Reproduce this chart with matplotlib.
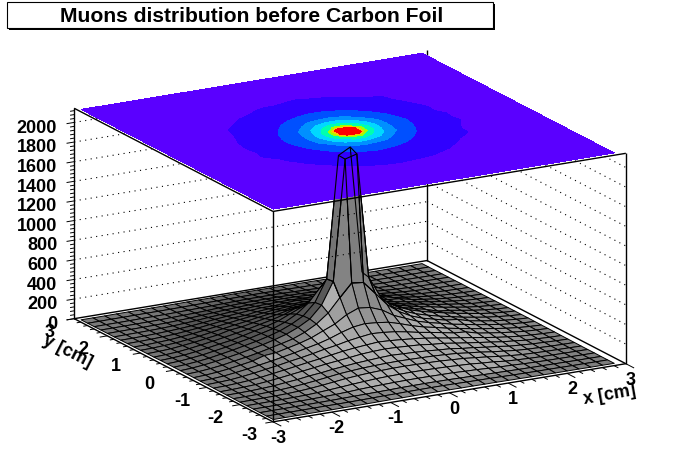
import numpy as np
import matplotlib
matplotlib.use('Agg')
import matplotlib.pyplot as plt
from matplotlib.patches import Rectangle
from mpl_toolkits.mplot3d import proj3d

plt.rcParams['font.family'] = ['Liberation Sans', 'DejaVu Sans']

W, H = 696, 472

title = "Muons distribution before Carbon Foil"
x_label = "x [cm]"
y_label = "y [cm]"

# bin centres, cm
x_bins = [-2.94, -2.74, -2.54, -2.34, -2.14, -1.94, -1.74, -1.54, -1.34, -1.14, -0.94, -0.74, -0.54, -0.34, -0.14,
          0.06, 0.26, 0.46, 0.66, 0.86, 1.06, 1.26, 1.46, 1.66, 1.86, 2.06, 2.26, 2.46, 2.66, 2.86]
y_bins = [-2.9, -2.7, -2.5, -2.3, -2.1, -1.9, -1.7, -1.5, -1.3, -1.1, -0.9, -0.7, -0.5, -0.3, -0.1,
          0.1, 0.3, 0.5, 0.7, 0.9, 1.1, 1.3, 1.5, 1.7, 1.9, 2.1, 2.3, 2.5, 2.7, 2.9]

# counts per bin, rows go from y=-2.9 to y=2.9
counts = [
    [0, 0, 0, 1, 1, 1, 2, 2, 3, 4, 5, 5, 6, 7, 7, 7, 6, 6, 5, 5, 4, 3, 2, 2, 1, 1, 1, 0, 0, 0],
    [0, 0, 1, 1, 2, 3, 3, 4, 5, 7, 9, 10, 12, 13, 14, 14, 13, 11, 10, 9, 7, 5, 4, 3, 3, 2, 1, 1, 0, 0],
    [0, 1, 1, 2, 3, 4, 5, 7, 9, 11, 13, 15, 18, 19, 20, 20, 19, 17, 15, 12, 10, 8, 6, 5, 4, 3, 2, 1, 1, 0],
    [1, 1, 2, 3, 4, 6, 9, 12, 17, 24, 29, 33, 36, 38, 39, 38, 37, 36, 31, 28, 22, 17, 14, 9, 6, 4, 3, 2, 1, 1],
    [1, 2, 3, 4, 6, 9, 15, 23, 32, 42, 50, 58, 62, 64, 66, 65, 63, 60, 55, 50, 40, 33, 20, 14, 9, 6, 4, 3, 2, 1],
    [1, 3, 4, 6, 9, 15, 24, 36, 50, 64, 74, 82, 87, 91, 92, 90, 88, 85, 78, 72, 60, 48, 34, 22, 13, 9, 6, 4, 3, 1],
    [2, 3, 5, 9, 14, 22, 33, 47, 62, 78, 88, 97, 102, 106, 108, 106, 104, 101, 95, 88, 74, 62, 45, 33, 20, 13, 9, 5, 3, 2],
    [3, 4, 7, 12, 19, 32, 43, 60, 72, 88, 100, 112, 120, 128, 133, 128, 124, 118, 108, 101, 84, 73, 57, 45, 28, 20, 12, 8, 4, 2],
    [3, 5, 10, 16, 28, 42, 58, 74, 90, 107, 120, 134, 149, 157, 162, 158, 152, 145, 130, 121, 103, 86, 70, 55, 38, 27, 15, 10, 5, 3],
    [4, 7, 13, 22, 35, 52, 70, 88, 107, 124, 144, 163, 177, 188, 198, 192, 183, 172, 158, 140, 120, 103, 85, 66, 48, 33, 20, 13, 7, 4],
    [5, 9, 15, 28, 43, 62, 80, 102, 121, 143, 168, 188, 214, 232, 248, 241, 228, 207, 182, 162, 140, 117, 108, 76, 58, 41, 27, 15, 9, 5],
    [5, 10, 18, 33, 50, 70, 90, 112, 135, 162, 188, 222, 265, 300, 315, 305, 290, 255, 215, 182, 158, 130, 108, 86, 66, 48, 31, 18, 10, 5],
    [6, 12, 22, 37, 56, 76, 112, 122, 150, 178, 214, 265, 315, 390, 438, 425, 380, 305, 255, 206, 172, 145, 116, 95, 72, 53, 35, 21, 12, 6],
    [7, 13, 24, 39, 60, 80, 103, 130, 158, 188, 235, 300, 392, 530, 660, 645, 515, 380, 290, 226, 182, 152, 123, 110, 76, 56, 37, 23, 13, 7],
    [7, 14, 26, 42, 62, 83, 108, 133, 164, 200, 250, 316, 438, 660, 1887, 1920, 645, 425, 305, 241, 192, 158, 128, 104, 78, 58, 39, 25, 14, 7],
    [7, 14, 25, 40, 61, 82, 107, 132, 162, 198, 248, 312, 430, 650, 1890, 1955, 660, 435, 312, 248, 198, 162, 133, 107, 82, 62, 41, 25, 14, 7],
    [7, 13, 24, 38, 58, 78, 103, 128, 158, 187, 232, 296, 388, 525, 655, 660, 530, 392, 298, 232, 186, 155, 127, 90, 78, 58, 39, 24, 13, 7],
    [6, 12, 21, 36, 54, 74, 92, 119, 148, 176, 210, 262, 312, 388, 435, 440, 390, 315, 262, 214, 176, 147, 120, 98, 74, 55, 36, 22, 12, 6],
    [5, 10, 18, 32, 49, 68, 88, 110, 132, 160, 186, 218, 262, 298, 312, 318, 300, 264, 222, 188, 160, 134, 110, 90, 68, 50, 33, 18, 10, 5],
    [5, 9, 15, 28, 42, 60, 78, 106, 119, 142, 165, 185, 210, 230, 246, 248, 234, 212, 188, 168, 144, 120, 100, 80, 60, 43, 28, 15, 9, 5],
    [4, 7, 13, 21, 34, 50, 68, 86, 105, 122, 142, 160, 175, 185, 195, 196, 186, 176, 162, 144, 124, 106, 96, 68, 50, 34, 21, 13, 7, 4],
    [3, 5, 10, 16, 27, 40, 56, 72, 88, 105, 119, 132, 147, 155, 160, 162, 156, 148, 133, 120, 106, 104, 73, 56, 40, 27, 16, 10, 5, 3],
    [3, 4, 7, 12, 19, 30, 42, 58, 72, 86, 92, 110, 119, 126, 130, 132, 127, 120, 111, 100, 87, 73, 59, 43, 30, 19, 12, 7, 4, 2],
    [2, 3, 5, 9, 14, 21, 30, 42, 56, 68, 78, 88, 97, 95, 105, 112, 103, 98, 89, 80, 70, 57, 43, 31, 21, 14, 9, 5, 3, 2],
    [1, 3, 4, 6, 9, 14, 21, 30, 40, 50, 60, 68, 74, 78, 80, 81, 79, 75, 69, 61, 50, 41, 30, 21, 14, 9, 6, 4, 3, 1],
    [1, 2, 3, 4, 6, 9, 14, 19, 27, 34, 42, 49, 54, 58, 60, 60, 58, 54, 50, 42, 34, 27, 20, 14, 9, 6, 4, 3, 2, 1],
    [1, 1, 2, 3, 4, 6, 9, 12, 16, 21, 28, 32, 36, 38, 40, 40, 38, 36, 32, 28, 21, 16, 12, 9, 6, 4, 3, 2, 1, 1],
    [0, 1, 1, 2, 3, 4, 5, 7, 10, 13, 15, 18, 21, 24, 25, 25, 24, 21, 18, 15, 13, 10, 7, 5, 4, 3, 2, 1, 1, 0],
    [0, 0, 1, 1, 2, 3, 3, 4, 5, 7, 9, 10, 12, 13, 14, 14, 13, 12, 10, 9, 7, 5, 4, 3, 3, 2, 1, 1, 0, 0],
    [0, 0, 0, 1, 1, 1, 2, 2, 3, 4, 5, 5, 6, 7, 7, 7, 7, 6, 5, 5, 4, 3, 2, 2, 1, 1, 1, 0, 0, 0],
]

x_ticks = [-3, -2, -1, 0, 1, 2, 3]
y_ticks = [-3, -2, -1, 0, 1, 2, 3]
z_ticks = [0, 200, 400, 600, 800, 1000, 1200, 1400, 1600, 1800, 2000]
z_top = 2144

contour_levels = [-1, 103, 210, 310, 415, 550, 780, 1190, 1450, 1770, 2000]
contour_colors = ['#5a00ff', '#3000ff', '#0050ff', '#0090ff', '#00d8ff',
                  '#00ffb0', '#a0ff00', '#ffc800', '#ff0000', '#ff0000']


def px(x, y):
    return x / W, 1 - y / H


def box_line(xs, ys, zs, z=6, lw=1.0):
    ax.plot(xs, ys, zs, color='k', lw=lw, zorder=z, solid_capstyle='butt')


def label_at(x, y, z, text, **kw):
    # project by hand so the label is a plain 2D text
    sx, sy, _ = proj3d.proj_transform(x, y, z, ax.get_proj())
    ax.text2D(sx, sy, text, transform=ax.transData, fontsize=13, fontweight='bold', va='center', zorder=7, **kw)


def cell_gray(Z):
    # brightness from how much each cell faces the viewer
    dzdx = (Z[:-1, 1:] + Z[1:, 1:] - Z[:-1, :-1] - Z[1:, :-1]) / 2 * (220 / z_top) / (0.2 * 67.5)
    dzdy = (Z[1:, :-1] + Z[1:, 1:] - Z[:-1, :-1] - Z[:-1, 1:]) / 2 * (220 / z_top) / (0.2 * 67.5)
    s = 0.9 * dzdy - 0.25 * dzdx
    g = 125 + 520 * s / (1 + (s / 0.2) ** 2)
    g = np.clip(g, 85, 200) / 255
    return np.dstack([g, g, g, np.ones_like(g)])


fig = plt.figure(figsize=(W / 100, H / 100), dpi=100)
side = 600
ax = fig.add_axes([(350 - 0.5135 * side) / W, (236 - 0.5135 * side) / H, side / W, side / H],
                  projection='3d', proj_type='ortho', computed_zorder=False)
ax.view_init(elev=17, azim=-119.4)
ax.set_xlim(-3, 3, view_margin=0)
ax.set_ylim(-3, 3, view_margin=0)
ax.set_zlim(0, z_top, view_margin=0)
ax.set_box_aspect((405, 405, 220), zoom=595.6 / side)
ax.set_axis_off()

X, Y = np.meshgrid(x_bins, y_bins)
Z = np.array(counts, dtype=float)

# back of the box
box_line([-3, 3], [3, 3], [0, 0], z=1)
box_line([3, 3], [3, -3], [0, 0], z=1)
box_line([3, 3], [3, 3], [0, z_top], z=1)

surf = ax.plot_surface(X, Y, Z, rstride=1, cstride=1, facecolors=cell_gray(Z), shade=False,
                       linewidth=0.7, zorder=2)
surf.set_edgecolor('k')

# grid on the two back walls
for z in z_ticks[1:]:
    ax.plot([-3, 3], [3, 3], [z, z], color='k', lw=0.8, ls=(0, (1, 4)), zorder=3)
    ax.plot([3, 3], [3, -3], [z, z], color='k', lw=0.8, ls=(0, (1, 4)), zorder=3)

ax.contourf(X, Y, Z, levels=contour_levels, colors=contour_colors, zdir='z', offset=z_top, zorder=4)

# the wire of the peak stays visible over the colour map
ax.plot_wireframe(X[13:16, 13:17], Y[13:16, 13:17], Z[13:16, 13:17], color='k', lw=0.8, zorder=5)

# front of the box
box_line([-3, -3], [-3, -3], [0, z_top])
box_line([-3, -3], [3, 3], [0, z_top])
box_line([3, 3], [-3, -3], [0, z_top])
box_line([-3, 3], [-3, -3], [0, 0])
box_line([-3, -3], [-3, 3], [0, 0])
box_line([-3, -3], [3, -3], [z_top, z_top])
box_line([-3, 3], [-3, -3], [z_top, z_top])

# ticks
for t in np.arange(-3, 3.01, 0.2):
    major = abs(t - round(t)) < 1e-6
    d = 0.25 if major else 0.13
    box_line([t, t], [-3, -3 - d], [0, 0], lw=0.7)
    d = 0.13 if major else 0.07
    box_line([-3, -3 - d], [t, t], [0, 0], lw=0.7)
for z in np.arange(0, z_top, 40):
    d = 0.13 if z % 200 == 0 else 0.07
    box_line([-3, -3 - d], [3, 3], [z, z], lw=0.7)

for t in x_ticks:
    label_at(t, -3.15, -140, str(t), ha='center')
for t in y_ticks:
    label_at(-3.41, t, -100, str(t), ha='center')
for z in z_ticks:
    label_at(-3.29, 3, z - 30, str(z), ha='right')

fig.text(*px(610, 395), x_label, fontsize=13, fontweight='bold', rotation=10, ha='center', va='center')
fig.text(*px(68, 351), y_label, fontsize=13, fontweight='bold', rotation=-27, ha='center', va='center')

# title box with its shadow
fig.add_artist(Rectangle(px(9, 30), 486 / W, 26 / H, transform=fig.transFigure, fc='k', ec='none'))
fig.add_artist(Rectangle(px(7, 28), 486 / W, 26 / H, transform=fig.transFigure, fc='w', ec='k', lw=0.8))
fig.text(*px(252, 16), title, fontsize=15.2, fontweight='bold', ha='center', va='center')

fig.savefig('out.png', dpi=100)
